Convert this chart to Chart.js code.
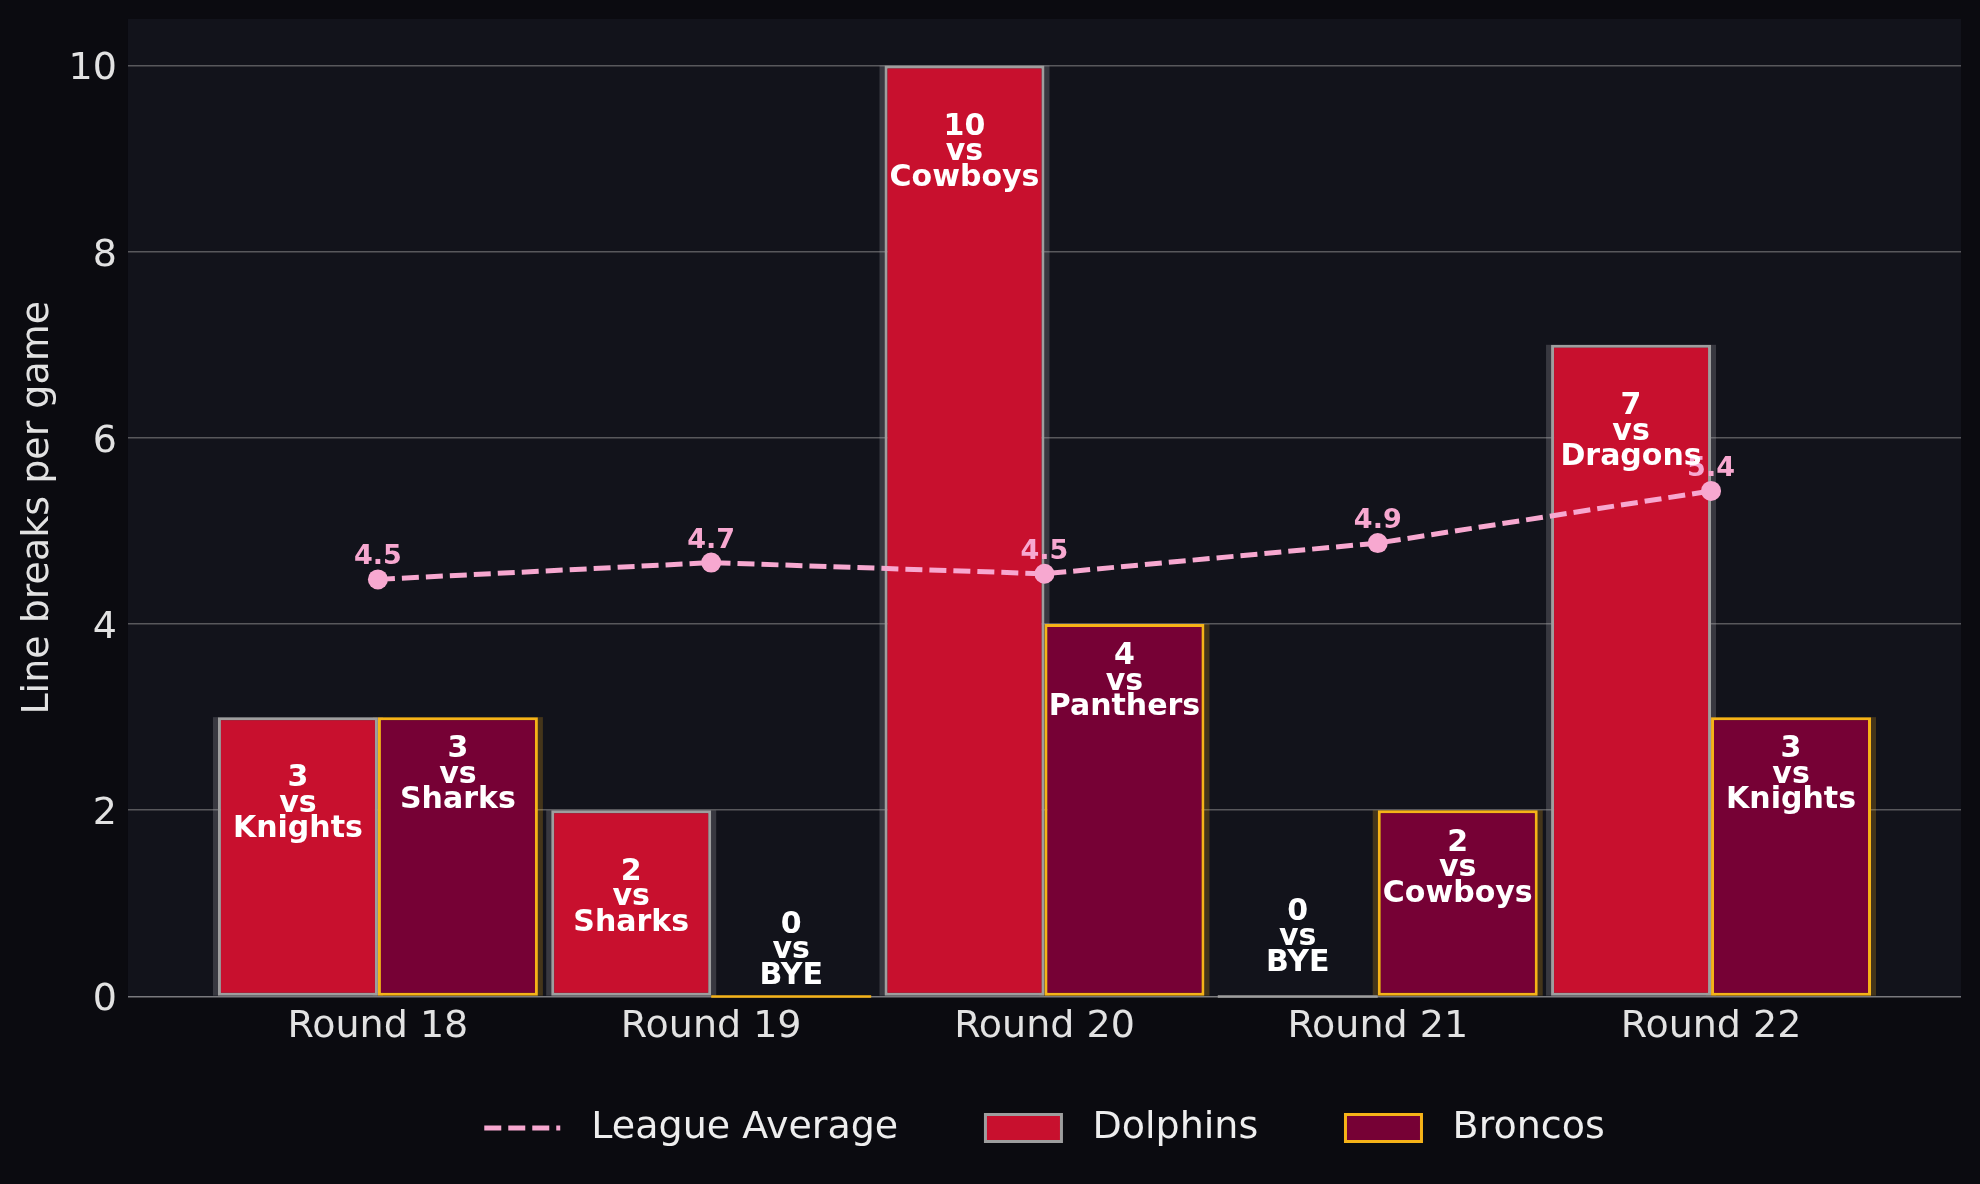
<!DOCTYPE html>
<html>
<head>
<meta charset="utf-8">
<title>Line breaks per game</title>
<script src="https://cdn.jsdelivr.net/npm/chart.js@4.4.1/dist/chart.umd.min.js"></script>
<style>
  html, body { margin: 0; padding: 0; background: #0b0b10; }
  canvas { display: block; }
</style>
</head>
<body>
<canvas id="lineBreaksChart" width="1980" height="1184"></canvas>
<script>
// Data
const rounds = ['Round 18', 'Round 19', 'Round 20', 'Round 21', 'Round 22'];
const dolphins = [3, 2, 10, 0, 7];
const broncos = [3, 0, 4, 2, 3];
const dolphinsOpp = ['Knights', 'Sharks', 'Cowboys', 'BYE', 'Dragons'];
const broncosOpp = ['Sharks', 'BYE', 'Panthers', 'Cowboys', 'Knights'];
const leagueAvg = [4.48, 4.66, 4.54, 4.87, 5.43];
const yTicks = [0, 2, 4, 6, 8, 10];

const PINK = '#f7a8d0';
const TEXT = '#e2e2e2';

Chart.defaults.font.family = "'DejaVu Sans', sans-serif";
Chart.defaults.color = TEXT;

// backgrounds, bar shadows and the text drawn on the bars / points
const decor = {
    id: 'decor',
    beforeDraw(chart) {
        const { ctx, chartArea: a } = chart;
        ctx.save();
        ctx.fillStyle = '#0b0b10';
        ctx.fillRect(0, 0, chart.width, chart.height);
        ctx.fillStyle = '#12131b';
        ctx.fillRect(a.left, a.top, a.right - a.left, a.bottom - a.top);
        ctx.restore();
    },
    beforeDatasetsDraw(chart) {
        const ctx = chart.ctx;
        ctx.save();
        chart.data.datasets.forEach((ds, di) => {
            if (ds.type === 'line') return;
            chart.getDatasetMeta(di).data.forEach(bar => {
                const { x, y, base, width } = bar.getProps(['x', 'y', 'base', 'width'], true);
                if (base - y < 1) return;
                ctx.fillStyle = ds.shadowColor;
                ctx.fillRect(x - width / 2 - 5, y, width + 10, base - y);
            });
        });
        ctx.restore();
    },
    afterDatasetsDraw(chart) {
        const ctx = chart.ctx;
        ctx.save();
        ctx.textAlign = 'center';
        ctx.textBaseline = 'middle';

        // zero bars still show their edge on the axis
        chart.data.datasets.forEach((ds, di) => {
            if (ds.type === 'line') return;
            chart.getDatasetMeta(di).data.forEach((bar, i) => {
                if (ds.data[i].y !== 0) return;
                const { x, base, width } = bar.getProps(['x', 'base', 'width'], true);
                ctx.strokeStyle = ds.borderColor;
                ctx.lineWidth = 2.5;
                ctx.beginPath();
                ctx.moveTo(x - width / 2, base);
                ctx.lineTo(x + width / 2, base);
                ctx.stroke();
            });
        });

        // league average values
        const lineIdx = chart.data.datasets.findIndex(d => d.type === 'line');
        ctx.fillStyle = PINK;
        ctx.font = "bold 27px 'DejaVu Sans'";
        chart.getDatasetMeta(lineIdx).data.forEach((pt, i) => {
            ctx.fillText(leagueAvg[i].toFixed(1), pt.x, pt.y - 22);
        });

        // "n / vs / Opponent" inside the bars
        ctx.fillStyle = '#ffffff';
        ctx.font = "bold 30px 'DejaVu Sans'";
        chart.data.datasets.forEach((ds, di) => {
            if (ds.type === 'line') return;
            chart.getDatasetMeta(di).data.forEach((bar, i) => {
                const { x, y, base } = bar.getProps(['x', 'y', 'base'], true);
                const v = ds.data[i].y;
                const mid = v > 0 ? y + ds.labelDrop : base - ds.zeroLift;
                ctx.fillText(String(v), x, mid - 25.5);
                ctx.fillText('vs', x, mid);
                ctx.fillText(ds.opponents[i], x, mid + 25.5);
            });
        });
        ctx.restore();
    }
};

const ctx = document.getElementById('lineBreaksChart').getContext('2d');
const lineBreaksChart = new Chart(ctx, {
    type: 'bar',
    data: {
        datasets: [
            {
                type: 'line',
                label: 'League Average',
                data: leagueAvg.map((v, i) => ({ x: i, y: v })),
                borderColor: PINK,
                backgroundColor: PINK,
                borderWidth: 5,
                borderDash: [17, 7],
                pointRadius: 10,
                pointHoverRadius: 10,
                pointBackgroundColor: PINK,
                pointBorderWidth: 0,
                tension: 0,
                fill: false,
                order: 0
            },
            {
                label: 'Dolphins',
                data: dolphins.map((v, i) => ({ x: i, y: v })),
                opponents: dolphinsOpp,
                backgroundColor: '#c8102e',
                borderColor: '#9e9e9e',
                shadowColor: 'rgba(160, 160, 165, 0.27)',
                labelDrop: 87,
                zeroLift: 59,
                borderWidth: 3,
                borderSkipped: false,
                order: 1
            },
            {
                label: 'Broncos',
                data: broncos.map((v, i) => ({ x: i, y: v })),
                opponents: broncosOpp,
                backgroundColor: '#760135',
                borderColor: '#f6b318',
                shadowColor: 'rgba(246, 179, 24, 0.22)',
                labelDrop: 58,
                zeroLift: 46,
                borderWidth: 3,
                borderSkipped: false,
                order: 2
            }
        ]
    },
    options: {
        responsive: false,
        animation: false,
        categoryPercentage: 0.96,
        barPercentage: 1,
        layout: { padding: { left: -6, right: 19, top: 19, bottom: 27 } },
        scales: {
            x: {
                type: 'linear',
                min: -0.75,
                max: 4.75,
                offset: false,
                afterBuildTicks: s => { s.ticks = rounds.map((r, i) => ({ value: i })); },
                ticks: {
                    callback: v => rounds[v],
                    font: { size: 38 },
                    color: TEXT,
                    padding: 8,
                    maxRotation: 0,
                    autoSkip: false
                },
                grid: { display: false, offset: false, drawTicks: false },
                border: { display: false }
            },
            y: {
                min: 0,
                max: 10.5,
                afterBuildTicks: s => { s.ticks = yTicks.map(v => ({ value: v })); },
                ticks: {
                    font: { size: 38, lineHeight: 0.2 },
                    color: TEXT,
                    padding: 11,
                    labelOffset: 4
                },
                grid: {
                    color: c => c.tick && c.tick.value === 0 ? '#7a7a7e' : '#58585c',
                    lineWidth: 1.5,
                    drawTicks: false
                },
                border: { display: false },
                title: {
                    display: true,
                    text: 'Line breaks per game',
                    font: { size: 38 },
                    color: TEXT,
                    padding: { top: 21, bottom: -3 }
                }
            }
        },
        plugins: {
            tooltip: { enabled: false },
            legend: {
                position: 'bottom',
                fullSize: false,
                labels: {
                    usePointStyle: true,
                    pointStyleWidth: 76,
                    boxHeight: 27,
                    padding: 51,
                    color: '#eeeeee',
                    font: { size: 38 },
                    generateLabels(chart) {
                        const items = Chart.defaults.plugins.legend.labels.generateLabels(chart);
                        items.forEach((it, i) => {
                            const ds = chart.data.datasets[it.datasetIndex];
                            if (ds.type === 'line') {
                                it.pointStyle = 'line';
                                it.strokeStyle = ds.borderColor;
                                it.lineWidth = ds.borderWidth;
                                it.lineDash = ds.borderDash;
                            } else {
                                it.pointStyle = 'rect';
                            }
                            it.text = ' ' + it.text + (i < items.length - 1 ? '   ' : '');
                        });
                        return items;
                    }
                }
            }
        }
    },
    plugins: [decor]
});
</script>
</body>
</html>
